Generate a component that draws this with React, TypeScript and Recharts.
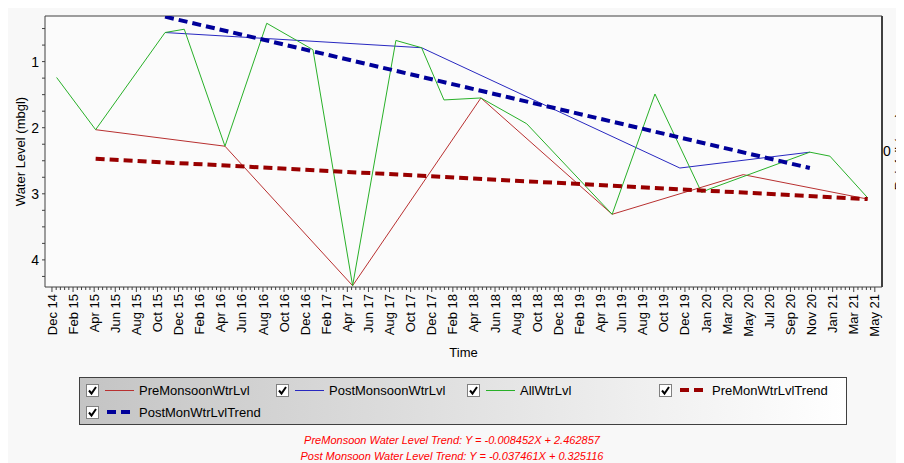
import React from 'react';
import {
  LineChart,
  Line,
  XAxis,
  YAxis,
  CartesianGrid,
  ReferenceLine,
} from 'recharts';

// x positions are in axis-label units (0 = Dec 14, 1 = Feb 15, ... 39 = May 21)
const xTickLabels = [
  'Dec 14', 'Feb 15', 'Apr 15', 'Jun 15', 'Aug 15', 'Oct 15', 'Dec 15', 'Feb 16',
  'Apr 16', 'Jun 16', 'Aug 16', 'Oct 16', 'Dec 16', 'Feb 17', 'Apr 17', 'Jun 17',
  'Aug 17', 'Oct 17', 'Dec 17', 'Feb 18', 'Apr 18', 'Jun 18', 'Aug 18', 'Oct 18',
  'Dec 18', 'Feb 19', 'Apr 19', 'Jun 19', 'Aug 19', 'Oct 19', 'Dec 19', 'Jan 20',
  'Mar 20', 'May 20', 'Jul 20', 'Sep 20', 'Nov 20', 'Jan 21', 'Mar 21', 'May 21',
];

const preX = [2.07, 8.2, 14.25, 20.33, 26.55, 32.76, 38.66];
const preLvl = [2.03, 2.28, 4.39, 1.55, 3.31, 2.71, 3.08];

const postX = [5.36, 17.52, 29.76, 35.92];
const postLvl = [0.56, 0.79, 2.61, 2.37];

const allX = [
  0.22, 2.07, 5.36, 6.27, 8.2, 10.18, 12.37, 14.25, 16.3, 17.52,
  18.58, 20.33, 22.5, 26.55, 28.58, 30.79, 31.14, 35.92, 36.87, 38.66,
];
const allLvl = [
  1.24, 2.03, 0.56, 0.51, 2.28, 0.42, 0.82, 4.39, 0.68, 0.79,
  1.58, 1.55, 1.94, 3.31, 1.49, 2.98, 2.93, 2.37, 2.43, 3.06,
];

const preTrendX = [2.07, 38.66];
const preTrendLvl = [2.47, 3.08];

const postTrendX = [5.36, 35.92];
const postTrendLvl = [0.32, 2.61];

const rainTicks = [0];

const trendNotes = [
  'PreMonsoon Water Level Trend: Y = -0.008452X + 2.462857',
  'Post Monsoon Water Level Trend: Y = -0.037461X + 0.325116',
];

const toPoints = (xs: number[], ys: number[]) => xs.map((x, i) => ({ x, v: ys[i] }));

const series = [
  { name: 'PreMonsoonWtrLvl', data: toPoints(preX, preLvl), color: '#b83030', width: 1, dash: undefined },
  { name: 'PostMonsoonWtrLvl', data: toPoints(postX, postLvl), color: '#2828c0', width: 1, dash: undefined },
  { name: 'AllWtrLvl', data: toPoints(allX, allLvl), color: '#28b028', width: 1, dash: undefined },
  { name: 'PreMonWtrLvlTrend', data: toPoints(preTrendX, preTrendLvl), color: '#990000', width: 4, dash: '9 5' },
  { name: 'PostMonWtrLvlTrend', data: toPoints(postTrendX, postTrendLvl), color: '#000099', width: 4, dash: '9 5' },
];

const X_DOMAIN = [-0.33, 39.34];
const Y_DOMAIN = [0.31, 4.41];

const xTicks: number[] = [];
for (let i = 0; i <= (xTickLabels.length - 1) * 5; i++) xTicks.push(i / 5);

const yTicks: number[] = [];
for (let k = 2; k <= 17; k++) yTicks.push(k / 4);

const FONT = '"Liberation Sans", Arial, sans-serif';

function XTick({ x, y, payload }: any) {
  const v = payload.value;
  const i = Math.round(v);
  const major = Math.abs(v - i) < 1e-6;
  return (
    <g>
      <line x1={x} x2={x} y1={y} y2={y + (major ? 5 : 3)} stroke="#404040" />
      {major && (
        <text
          x={x}
          y={y + 7}
          transform={`rotate(-90 ${x} ${y + 7})`}
          textAnchor="end"
          dy="0.35em"
          fontSize={13}
          fontFamily={FONT}
          fill="#000"
        >
          {xTickLabels[i]}
        </text>
      )}
    </g>
  );
}

function YTick({ x, y, payload }: any) {
  const v = payload.value;
  const major = Number.isInteger(v);
  return (
    <g>
      <line x1={x} x2={x - 3} y1={y} y2={y} stroke="#404040" />
      {major && (
        <text x={x - 6} y={y} dy="0.35em" textAnchor="end" fontSize={14} fontFamily={FONT} fill="#000">
          {v}
        </text>
      )}
    </g>
  );
}

function RainTick({ x, y, payload }: any) {
  return (
    <text x={x + 1} y={y} dy="0.35em" textAnchor="start" fontSize={14} fontFamily={FONT} fill="#000">
      {payload.value}
    </text>
  );
}

function CheckBox() {
  return (
    <svg width={13} height={13} style={{ display: 'block' }}>
      <rect x={0.5} y={0.5} width={12} height={12} fill="#fff" stroke="#808080" />
      <polyline points="3,6.5 5.5,9.5 10,3" fill="none" stroke="#000" strokeWidth={2} />
    </svg>
  );
}

// legend slot positions inside the legend box
const legendSlots = [
  { left: 6, top: 12 },
  { left: 196, top: 12 },
  { left: 387, top: 12 },
  { left: 579, top: 12 },
  { left: 6, top: 34 },
];

function LegendBox() {
  return (
    <div
      style={{
        position: 'absolute',
        left: 71,
        top: 369,
        width: 766,
        height: 46,
        border: '1px solid #404040',
        background: 'linear-gradient(to right, #c4c4c4, #ffffff)',
      }}
    >
      {series.map((s, i) => (
        <div
          key={s.name}
          style={{
            position: 'absolute',
            left: legendSlots[i].left,
            top: legendSlots[i].top - 7,
            height: 14,
            display: 'flex',
            alignItems: 'center',
          }}
        >
          <CheckBox />
          <svg width={40} height={14} style={{ display: 'block' }}>
            {s.dash ? (
              <line x1={8} x2={32} y1={7} y2={7} stroke={s.color} strokeWidth={4} strokeDasharray="9 5" />
            ) : (
              <line x1={6} x2={35} y1={7.5} y2={7.5} stroke={s.color} strokeWidth={1} />
            )}
          </svg>
          <span style={{ fontSize: 13, fontFamily: FONT, color: '#000', whiteSpace: 'nowrap' }}>{s.name}</span>
        </div>
      ))}
    </div>
  );
}

export default function App() {
  return (
    <div style={{ position: 'relative', width: 896, height: 455, background: '#f8f8f8', fontFamily: FONT }}>
      <LineChart width={896} height={360} margin={{ top: 8, right: 0, bottom: 0, left: 0 }}>
        <CartesianGrid yAxisId="lvl" horizontal={false} vertical={false} fill="#fbfbfb" />
        <XAxis
          dataKey="x"
          type="number"
          domain={X_DOMAIN}
          allowDataOverflow
          ticks={xTicks}
          interval={0}
          tick={<XTick />}
          tickLine={false}
          tickSize={0}
          tickMargin={0}
          height={81}
          stroke="#404040"
          label={{ value: 'Time', position: 'insideBottom', offset: 11, fontSize: 13, fill: '#000' }}
        />
        <YAxis
          yAxisId="lvl"
          type="number"
          reversed
          domain={Y_DOMAIN}
          allowDataOverflow
          ticks={yTicks}
          interval={0}
          tick={<YTick />}
          tickLine={false}
          tickSize={0}
          tickMargin={0}
          width={37}
          stroke="#404040"
          label={{ value: 'Water Level (mbgl)', angle: -90, position: 'center', dx: -6, fontSize: 13, fill: '#000' }}
        />
        <YAxis
          yAxisId="rain"
          orientation="right"
          type="number"
          domain={[-1, 1]}
          allowDataOverflow
          ticks={rainTicks}
          interval={0}
          tickLine={false}
          tickSize={0}
          tickMargin={0}
          width={22}
          stroke="#404040"
          strokeWidth={2}
          tick={<RainTick />}
          label={{ value: 'Rainfall (mm)', angle: -90, position: 'center', dx: 6, fontSize: 13, fill: '#000' }}
        />
        <ReferenceLine yAxisId="lvl" y={Y_DOMAIN[0]} stroke="#404040" ifOverflow="visible" />
        {series.map((s) => (
          <Line
            key={s.name}
            yAxisId="lvl"
            data={s.data}
            dataKey="v"
            name={s.name}
            type="linear"
            stroke={s.color}
            strokeWidth={s.width}
            strokeDasharray={s.dash}
            dot={false}
            activeDot={false}
            isAnimationActive={false}
          />
        ))}
      </LineChart>
      <LegendBox />
      {trendNotes.map((t, i) => (
        <div
          key={t}
          style={{
            position: 'absolute',
            left: 0,
            width: 888,
            top: 425 + i * 16,
            textAlign: 'center',
            fontSize: 11,
            fontStyle: 'italic',
            color: '#ff0000',
            lineHeight: '14px',
            whiteSpace: 'nowrap',
          }}
        >
          {t}
        </div>
      ))}
    </div>
  );
}
